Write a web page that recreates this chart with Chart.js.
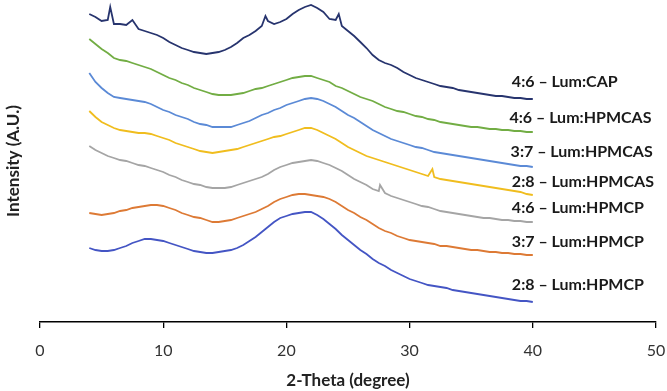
<!DOCTYPE html>
<html>
<head>
<meta charset="utf-8">
<script src="https://cdn.jsdelivr.net/npm/chart.js@4"></script>
<style>
  html, body { margin: 0; padding: 0; background: #fff; }
</style>
</head>
<body>
<canvas id="chart" width="667" height="391"></canvas>
<script>
// 2-theta grid (degree), shared by all traces
const twoTheta = [4, 4.5, 5, 5.5, 6, 6.5, 7, 7.5, 8, 8.5, 9, 9.5, 10, 10.5, 11, 11.5, 12, 12.5, 13, 13.5,
  14, 14.5, 15, 15.5, 16, 16.5, 17, 17.5, 18, 18.5, 19, 19.5, 20, 20.5, 21, 21.5, 22, 22.5, 23, 23.5,
  24, 24.5, 25, 25.5, 26, 26.5, 27, 27.5, 28, 28.5, 29, 29.5, 30, 30.5, 31, 31.5, 32, 32.5, 33, 33.5,
  34, 34.5, 35, 35.5, 36, 36.5, 37, 37.5, 38, 38.5, 39, 39.5, 40];

// intensities (A.U., stacked with offsets as in the figure)
const cap46 = [308, 305, 301, 302, 298, 298, 297, 302, 293, 291, 289, 287, 284, 280, 277, 274, 272, 270, 269, 268,
  269, 270, 272, 275, 279, 284, 287, 291, 296, 301, 298, 300, 303, 308, 312, 315, 317, 314, 310, 303,
  302, 296, 291, 286, 280, 274, 267, 262, 259, 257, 254, 250, 247, 244, 242, 240, 238, 236, 235, 234,
  232, 231, 230, 229, 228, 227, 226, 226, 225, 224, 224, 223, 223];
const cas46 = [283, 278, 273, 269, 264, 262, 261, 259, 257, 255, 253, 250, 247, 244, 242, 239, 237, 234, 232, 230,
  228, 227, 227, 227, 228, 229, 231, 233, 234, 236, 238, 240, 242, 244, 245, 246, 246, 244, 242, 240,
  236, 234, 231, 228, 225, 223, 221, 218, 215, 213, 211, 210, 208, 206, 205, 203, 202, 200, 199, 198,
  197, 196, 195, 195, 194, 193, 193, 192, 192, 191, 191, 190, 190];
const cas37 = [249, 240, 234, 229, 225, 224, 223, 222, 221, 220, 218, 215, 212, 210, 207, 205, 203, 200, 198, 197,
  195, 195, 195, 195, 197, 199, 201, 204, 207, 209, 212, 214, 217, 219, 221, 223, 224, 223, 221, 218,
  215, 211, 207, 204, 200, 196, 192, 189, 186, 183, 181, 179, 177, 175, 174, 172, 170, 169, 168, 167,
  166, 165, 164, 163, 162, 161, 160, 159, 158, 157, 156, 156, 155];
const cas28 = [211, 205, 200, 197, 194, 192, 191, 190, 189, 189, 188, 186, 184, 182, 179, 177, 175, 173, 171, 170,
  169, 170, 171, 172, 173, 175, 177, 179, 181, 183, 185, 186, 188, 190, 192, 194, 194, 192, 189, 186,
  183, 179, 175, 172, 169, 166, 164, 162, 160, 158, 156, 154, 152, 150, 148, 146, 145, 143, 142, 141,
  140, 139, 138, 137, 136, 135, 134, 133, 132, 131, 130, 128, 127];
const hp46 = [176, 172, 169, 166, 164, 162, 161, 159, 157, 156, 154, 152, 150, 147, 145, 142, 140, 138, 137, 135,
  134, 134, 134, 135, 137, 139, 141, 143, 145, 148, 152, 155, 157, 159, 160, 161, 162, 161, 159, 157,
  154, 151, 147, 143, 140, 137, 133, 131, 129, 126, 124, 122, 120, 118, 116, 115, 113, 111, 110, 109,
  108, 107, 106, 105, 104, 104, 103, 102, 102, 101, 101, 100, 100];
const hp37 = [109, 108, 107, 108, 109, 111, 112, 114, 115, 116, 117, 117, 116, 114, 112, 109, 107, 105, 104, 102,
  100, 100, 101, 102, 104, 106, 108, 110, 113, 116, 120, 123, 125, 127, 128, 128, 127, 126, 125, 123,
  120, 116, 112, 109, 105, 102, 98, 94, 91, 89, 86, 84, 82, 81, 80, 79, 78, 76, 76, 75,
  74, 73, 72, 72, 71, 70, 70, 69, 69, 68, 68, 67, 67];
const hp28 = [74, 72, 71, 71, 72, 74, 76, 79, 81, 83, 83, 82, 81, 79, 77, 75, 73, 71, 70, 69,
  69, 70, 71, 72, 74, 77, 81, 85, 90, 95, 100, 104, 106, 108, 109, 110, 110, 107, 103, 98,
  93, 87, 82, 77, 72, 68, 63, 59, 56, 52, 49, 46, 43, 41, 39, 37, 36, 35, 34, 32,
  31, 30, 29, 28, 27, 26, 25, 24, 23, 22, 21, 21, 20];

// narrow crystalline peaks sitting on the halos
const capPeakX = [5.7, 18.3, 24.25];
const capPeakY = [315, 306, 308];
const cas28PeakX = [31.85];
const cas28PeakY = [153];
const hp46PeakX = [27.6];
const hp46PeakY = [137];

const seriesNames = ['4:6 – Lum:CAP', '4:6 – Lum:HPMCAS', '3:7 – Lum:HPMCAS', '2:8 – Lum:HPMCAS',
  '4:6 – Lum:HPMCP', '3:7 – Lum:HPMCP', '2:8 – Lum:HPMCP'];
const seriesColors = ['#27346e', '#72ad44', '#5b8ad6', '#f0bd1e', '#a5a5a5', '#dd7a35', '#4455c4'];

function toPoints(ys, peakX, peakY) {
  const pts = twoTheta.map((x, i) => ({ x: x, y: ys[i] }));
  (peakX || []).forEach((x, i) => pts.push({ x: x, y: peakY[i] }));
  return pts.sort((a, b) => a.x - b.x);
}

const traces = [
  toPoints(cap46, capPeakX, capPeakY),
  toPoints(cas46),
  toPoints(cas37),
  toPoints(cas28, cas28PeakX, cas28PeakY),
  toPoints(hp46, hp46PeakX, hp46PeakY),
  toPoints(hp37),
  toPoints(hp28)
];

// text labels to the right of each trace (x in degree, y in A.U.)
const labelSpots = [[38.3, 240], [38.1, 204], [38.2, 170], [38.3, 140], [38.3, 114], [38.3, 80], [38.3, 37]];

const traceLabels = {
  id: 'traceLabels',
  afterDatasetsDraw(chart) {
    const ctx = chart.ctx;
    const xs = chart.scales.x, ys = chart.scales.y;
    ctx.save();
    ctx.font = 'bold 16px Lato, "Open Sans", sans-serif';
    ctx.fillStyle = '#1a1a1a';
    ctx.textBaseline = 'middle';
    ctx.textAlign = 'left';
    seriesNames.forEach((name, i) => {
      ctx.fillText(name, xs.getPixelForValue(labelSpots[i][0]), ys.getPixelForValue(labelSpots[i][1]));
    });
    ctx.restore();
  }
};

new Chart(document.getElementById('chart'), {
  type: 'line',
  data: {
    datasets: traces.map((pts, i) => ({
      label: seriesNames[i],
      data: pts,
      borderColor: seriesColors[i],
      borderWidth: 1.8,
      pointRadius: 0,
      tension: 0
    }))
  },
  options: {
    responsive: false,
    animation: false,
    layout: { padding: { top: 0, right: 11, bottom: 0, left: 0 } },
    plugins: {
      legend: { display: false },
      tooltip: { enabled: false }
    },
    scales: {
      x: {
        type: 'linear',
        min: 0,
        max: 50,
        afterFit(scale) {
          scale.height = 69;
          scale.paddingLeft = 0;
          scale.paddingRight = 0;
        },
        ticks: {
          stepSize: 10,
          padding: 13,
          color: '#333',
          font: { family: 'Lato, "Open Sans", sans-serif', size: 16 }
        },
        grid: {
          drawOnChartArea: false,
          drawTicks: true,
          tickLength: 6,
          color: '#000',
          lineWidth: 1.3
        },
        border: { display: true, color: '#000', width: 1.5 },
        title: {
          display: true,
          text: '2-Theta (degree)',
          color: '#222',
          padding: { top: 0, bottom: 0 },
          font: { family: 'Lato, "Open Sans", sans-serif', size: 17, weight: 'bold' }
        }
      },
      y: {
        min: 0,
        max: 322,
        afterFit(scale) { scale.width = 40; },
        ticks: { display: false },
        grid: { display: false },
        border: { display: false },
        title: {
          display: true,
          text: 'Intensity (A.U.)',
          color: '#222',
          padding: { top: 3, bottom: 0 },
          font: { family: 'Lato, "Open Sans", sans-serif', size: 17, weight: 'bold' }
        }
      }
    }
  },
  plugins: [traceLabels]
});
</script>
</body>
</html>
